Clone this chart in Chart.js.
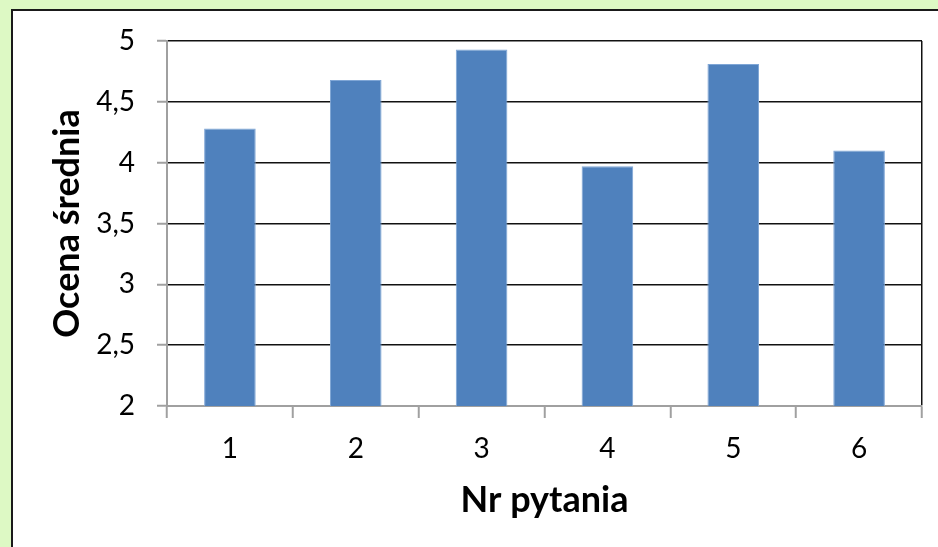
<!DOCTYPE html>
<html>
<head>
<meta charset="utf-8">
<script src="https://cdn.jsdelivr.net/npm/chart.js@4"></script>
<style>
  html, body { margin: 0; padding: 0; background: #ddf9c4; }
  canvas { display: block; }
</style>
</head>
<body>
<canvas id="ocenyChart" width="938" height="547"></canvas>
<script>
const pytania = ["1", "2", "3", "4", "5", "6"];
const ocenySrednie = [4.28, 4.68, 4.93, 3.97, 4.81, 4.10];
const yTicks = [2, 2.5, 3, 3.5, 4, 4.5, 5];

const fontName = "Lato, Carlito, 'Liberation Sans', sans-serif";

// green page + white panel with dark left/top edge
const tlo = {
	id: "tlo",
	beforeDraw(chart) {
		const ctx = chart.ctx;
		ctx.save();
		ctx.fillStyle = "#ddf9c4";
		ctx.fillRect(0, 0, chart.width, chart.height);
		ctx.fillStyle = "#ffffff";
		ctx.fillRect(11, 9, chart.width, chart.height);
		ctx.strokeStyle = "#1a1a1a";
		ctx.lineWidth = 2;
		ctx.beginPath();
		ctx.moveTo(12, chart.height);
		ctx.lineTo(12, 10);
		ctx.lineTo(chart.width, 10);
		ctx.stroke();
		ctx.restore();
	},
};

const ctxOceny = document.getElementById("ocenyChart").getContext("2d");

const wykres = new Chart(ctxOceny, {
	type: "bar",
	data: {
		labels: pytania,
		datasets: [
			{
				data: ocenySrednie,
				backgroundColor: "#4f81bd",
				borderColor: "#7fa6d6",
				borderWidth: 1,
				barPercentage: 0.41,
				categoryPercentage: 1,
			},
		],
	},
	options: {
		responsive: false,
		animation: false,
		layout: {
			padding: { left: 42, top: 41, right: 16, bottom: 21 },
		},
		plugins: {
			legend: { display: false },
			tooltip: { enabled: false },
		},
		scales: {
			x: {
				grid: {
					offset: true,
					color: (c) => (c.type === "scale" ? "#111" : "rgba(0,0,0,0)"),
					lineWidth: 1.5,
					tickColor: "#a0a0a0",
					tickWidth: 2,
					tickLength: 12,
				},
				border: { color: "#a0a0a0", width: 2 },
				ticks: {
					color: "#000",
					padding: 14,
					maxRotation: 0,
					font: { family: fontName, size: 28 },
				},
				title: {
					display: true,
					text: "Nr pytania",
					color: "#000",
					font: { family: fontName, size: 36, weight: "bold" },
				},
				afterFit(scale) {
					scale.height = 120;
				},
			},
			y: {
				min: 2,
				max: 5,
				afterBuildTicks(scale) {
					scale.ticks = yTicks.map((v) => ({ value: v }));
				},
				grid: {
					color: (c) => (c.tick && c.tick.value === 2 ? "rgba(0,0,0,0)" : "#111"),
					lineWidth: 1.5,
					tickColor: "#a0a0a0",
					tickWidth: 2,
					tickLength: 10,
				},
				border: { color: "#a0a0a0", width: 2 },
				ticks: {
					color: "#000",
					padding: 22,
					font: { family: fontName, size: 28 },
					callback: (v) => String(v).replace(".", ","),
				},
				title: {
					display: true,
					text: "Ocena średnia",
					color: "#000",
					font: { family: fontName, size: 36, weight: "bold" },
				},
				afterFit(scale) {
					scale.width = 125;
				},
			},
		},
	},
	plugins: [tlo],
});
</script>
</body>
</html>
